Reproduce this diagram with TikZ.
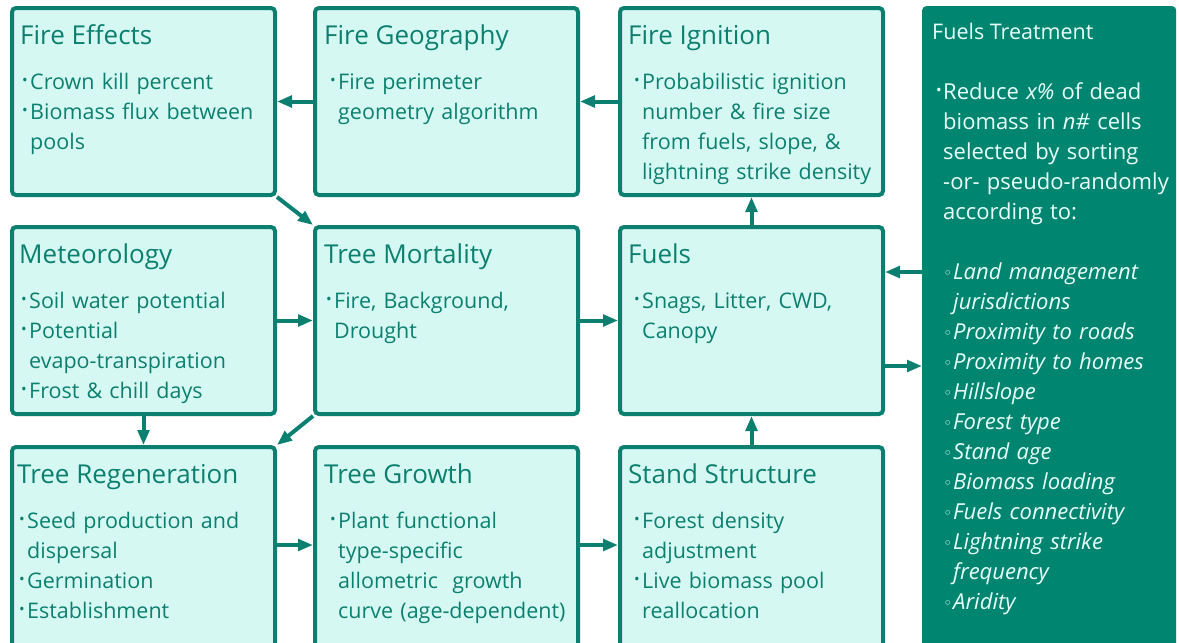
\documentclass[tikz,border=0pt]{standalone}
\usepackage{fontspec}
\setmainfont{Open Sans}
\newfontfamily\djv{DejaVu Sans}
\usetikzlibrary{arrows.meta,calc}
\definecolor{tealc}{HTML}{0B8070}
\definecolor{mint}{HTML}{D6F8F2}
\definecolor{panelc}{HTML}{008571}
\definecolor{ptext}{HTML}{E8FFF9}
\newcommand\bmark{\makebox[10pt][r]{\raisebox{3.4pt}{\fontsize{15}{15}\selectfont\textbullet}\hspace{2.5pt}}}
\newcommand\fb{\noindent\hangindent=10pt\hangafter=1\bmark}
\newcommand\bi{\par\fb}
\newcommand\pfb{\noindent\hangindent=8pt\hangafter=1\makebox[8pt][r]{\raisebox{3.4pt}{\fontsize{15}{15}\selectfont\textbullet}\hspace{1.5pt}}}
\newcommand\sbi{\par\noindent\hangindent=18pt\hangafter=1\makebox[18pt][r]{\raisebox{0.8pt}{\djv\fontsize{15}{15}\selectfont ◦}\hspace{1pt}}}
\newcommand\boxlabels[5]{%
  \node[ttl] (#1-t) at ($(#1.north west)+(#2,38)$) {#3};
  \node[bdy] (#1-b) at ($(#1.north west)+(#4-10,83)$) {\fb #5\par};
}
\tikzset{
  bx/.style={draw=tealc, fill=mint, line width=4pt, rounded corners=4pt,
    minimum width=263pt, minimum height=187pt, anchor=north west, inner sep=0pt},
  bxl/.style={bx, minimum height=206pt},
  ttl/.style={anchor=base west, inner sep=0pt, text=tealc, font=\fontsize{26}{30}\selectfont},
  bdy/.style={anchor=base west, inner sep=0pt, text=tealc, text width=300pt, align=left,
    font=\fontsize{21.5}{30}\selectfont},
  arr/.style={draw=tealc, line width=4pt, -{Triangle[length=15pt,width=11.5pt]}},
}
\begin{document}
\begin{tikzpicture}[x=1pt,y=-1pt]
\useasboundingbox (0,0) rectangle (1179,643);
\clip (0,0) rectangle (1179,643);
\fill[white] (0,0) rectangle (1179,643);
% boxes
\node[bx] (eff) at (10,6) {};
\node[bx] (geo) at (313,6) {};
\node[bx] (ign) at (618,6) {};
\node[bx] (met) at (10,225) {};
\node[bx] (mort) at (313,225) {};
\node[bx] (fuels) at (618,225) {};
\node[bxl] (regen) at (10,445) {};
\node[bxl] (grow) at (313,445) {};
\node[bxl] (stand) at (618,445) {};
\node[fill=panelc, rounded corners=4pt, minimum width=254pt, minimum height=660pt,
  anchor=north west, inner sep=0pt] (ft) at (922,6) {};
% texts
\boxlabels{eff}{10}{Fire Effects}{20}{Crown kill percent\bi Biomass flux between\newline pools}
\boxlabels{geo}{11}{Fire Geography}{25}{Fire perimeter\newline geometry algorithm}
\boxlabels{ign}{10}{Fire Ignition}{24}{Probabilistic ignition\newline number \& fire size\newline from fuels, slope, \&\newline lightning strike density}
\boxlabels{met}{9}{Meteorology}{19}{Soil water potential\bi Potential\newline evapo-transpiration\bi Frost \& chill days}
\boxlabels{mort}{11}{Tree Mortality}{21}{Fire, Background,\newline Drought}
\boxlabels{fuels}{10}{Fuels}{24}{Snags, Litter, CWD,\newline Canopy}
\boxlabels{regen}{7}{Tree Regeneration}{17}{Seed production and\newline dispersal\bi Germination\bi Establishment}
\boxlabels{grow}{11}{Tree Growth}{25}{Plant functional\newline type-specific\newline allometric\ \ growth\newline curve (age-dependent)}
\boxlabels{stand}{10}{Stand Structure}{24}{Forest density\newline adjustment\bi Live biomass pool\newline reallocation}
\node[anchor=base west, inner sep=0pt, text=ptext, font=\fontsize{21.5}{30}\selectfont]
  (ft-t) at ($(ft.north west)+(10,33)$) {Fuels Treatment};
\node[anchor=base west, inner sep=0pt, text=ptext, text width=240pt, align=left,
  font=\fontsize{22}{30}\selectfont] (ft-b) at ($(ft.north west)+(13,93)$)
  {\pfb Reduce \textit{x\%} of dead\newline biomass in \textit{n\#} cells\newline selected by sorting\newline -or- pseudo-randomly\newline according to:\par\vskip30pt
   \sbi\textit{Land management\newline jurisdictions}
   \sbi\textit{Proximity to roads}
   \sbi\textit{Proximity to homes}
   \sbi\textit{Hillslope}
   \sbi\textit{Forest type}
   \sbi\textit{Stand age}
   \sbi\textit{Biomass loading}
   \sbi\textit{Fuels connectivity}
   \sbi\textit{Lightning strike\newline frequency}
   \sbi\textit{Aridity}\par};
% connectors
\coordinate (yin) at (0,272);
\coordinate (yout) at (0,366);
\coordinate (yrow) at (0,545);
\draw[arr] (geo.west) -- (eff.east);
\draw[arr] (ign.west) -- (geo.east);
\draw[arr] (eff.south east) -- (mort.north west);
\draw[arr] (met.east) -- (mort.west);
\draw[arr] (mort.east) -- (fuels.west);
\draw[arr] (met.south) -- (regen.north);
\draw[arr] (mort.south west) -- (regen.north east);
\draw[arr] (fuels.north) -- (ign.south);
\draw[arr] (stand.north) -- (fuels.south);
\draw[arr] (regen.east |- yrow) -- (grow.west |- yrow);
\draw[arr] (grow.east |- yrow) -- (stand.west |- yrow);
\draw[arr] (ft.west |- yin) -- (fuels.east |- yin);
\draw[arr] (fuels.east |- yout) -- (ft.west |- yout);
\end{tikzpicture}
\end{document}
